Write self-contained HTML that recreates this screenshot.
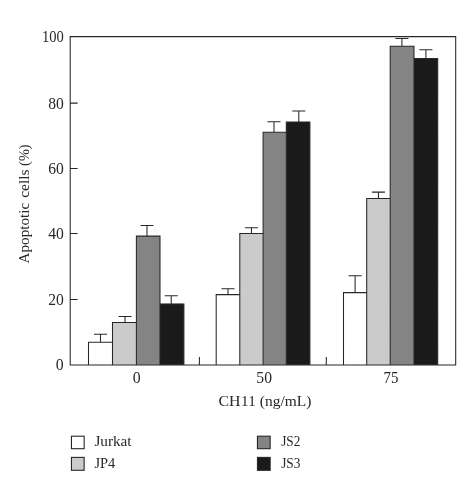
<!DOCTYPE html>
<html><head><meta charset="utf-8"><title>Apoptotic cells chart</title>
<style>html,body{margin:0;padding:0;background:#fff}svg{display:block;filter:grayscale(1)}</style></head>
<body>
<svg width="473" height="481" viewBox="0 0 473 481">
<rect width="473" height="481" fill="#fff"/>
<rect x="88.50" y="342.30" width="24.00" height="22.60" fill="#ffffff"/>
<rect x="112.50" y="322.40" width="23.90" height="42.50" fill="#cbcbcb"/>
<rect x="136.40" y="236.10" width="23.60" height="128.80" fill="#848484"/>
<rect x="160.00" y="303.90" width="23.90" height="61.00" fill="#1a1a1a"/>
<rect x="216.20" y="294.60" width="23.60" height="70.30" fill="#ffffff"/>
<rect x="239.80" y="233.40" width="23.30" height="131.50" fill="#cbcbcb"/>
<rect x="263.10" y="132.30" width="23.20" height="232.60" fill="#848484"/>
<rect x="286.30" y="122.00" width="23.60" height="242.90" fill="#1a1a1a"/>
<rect x="343.50" y="292.60" width="23.20" height="72.30" fill="#ffffff"/>
<rect x="366.70" y="198.50" width="23.50" height="166.40" fill="#cbcbcb"/>
<rect x="390.20" y="46.20" width="23.80" height="318.70" fill="#848484"/>
<rect x="414.00" y="58.50" width="23.70" height="306.40" fill="#1a1a1a"/>
<path d="M100.50 342.30V334.20M94.50 334.20H106.50M88.50 342.30H112.50M125.00 322.40V316.50M119.00 316.50H131.00M112.50 322.40H136.40M147.00 236.10V225.50M141.00 225.50H153.00M136.40 236.10H160.00M171.25 303.90V295.80M165.25 295.80H177.25M160.00 303.90H183.90M88.50 364.9V342.30M112.50 364.9V322.40M136.40 364.9V236.10M160.00 364.9V236.10M183.90 364.9V303.90M228.00 294.60V288.70M222.00 288.70H234.00M216.20 294.60H239.80M251.45 233.40V227.80M245.45 227.80H257.45M239.80 233.40H263.10M274.00 132.30V121.70M268.00 121.70H280.00M263.10 132.30H286.30M298.80 122.00V111.00M292.80 111.00H304.80M286.30 122.00H309.90M216.20 364.9V294.60M239.80 364.9V233.40M263.10 364.9V132.30M286.30 364.9V122.00M309.90 364.9V122.00M355.10 292.60V275.70M349.10 275.70H361.10M343.50 292.60H366.70M378.45 198.50V192.10M372.45 192.10H384.45M366.70 198.50H390.20M401.90 46.20V38.40M395.90 38.40H407.90M390.20 46.20H414.00M425.90 58.50V49.70M419.90 49.70H431.90M414.00 58.50H437.70M343.50 364.9V292.60M366.70 364.9V198.50M390.20 364.9V46.20M414.00 364.9V46.20M437.70 364.9V58.50M70.2 364.9V36.6H455.7V364.9H70.2ZM70.2 103.10H77.1M70.2 168.50H77.1M70.2 233.55H77.1M70.2 299.55H77.1M199.4 364.9V357.5M326.3 364.9V357.5" fill="none" stroke="#2a2627" stroke-width="1.05" stroke-linecap="square" stroke-linejoin="miter"/>
<g font-family="'Liberation Serif', serif" font-size="15" fill="#2b2728">
<text x="63.9" y="41.7" font-size="15.8" text-anchor="end" textLength="21.8" lengthAdjust="spacingAndGlyphs">100</text>
<text x="63.9" y="108.6" font-size="15.8" text-anchor="end" textLength="15.6" lengthAdjust="spacingAndGlyphs">80</text>
<text x="63.9" y="173.6" font-size="15.8" text-anchor="end" textLength="15.6" lengthAdjust="spacingAndGlyphs">60</text>
<text x="63.9" y="238.7" font-size="15.8" text-anchor="end" textLength="15.6" lengthAdjust="spacingAndGlyphs">40</text>
<text x="63.9" y="305.0" font-size="15.8" text-anchor="end" textLength="15.6" lengthAdjust="spacingAndGlyphs">20</text>
<text x="63.6" y="370.25" font-size="15.8" text-anchor="end">0</text>
<text x="136.6" y="382.7" font-size="15.8" text-anchor="middle">0</text>
<text x="264.15" y="382.7" font-size="15.8" text-anchor="middle" textLength="15.6" lengthAdjust="spacingAndGlyphs">50</text>
<text x="390.9" y="382.7" font-size="15.8" text-anchor="middle" textLength="14.9" lengthAdjust="spacingAndGlyphs">75</text>
<text y="405.7"><tspan x="218.4" textLength="22.1" lengthAdjust="spacingAndGlyphs">CH</tspan><tspan x="240.9" textLength="14.8" lengthAdjust="spacing">11</tspan> <tspan x="259.8" textLength="51.5" lengthAdjust="spacingAndGlyphs">(ng/mL)</tspan></text>
<text transform="translate(29.2 262) rotate(-90)"><tspan x="-1.5" textLength="60.8" lengthAdjust="spacingAndGlyphs">Apoptotic</tspan> <tspan x="64.15" textLength="28.45" lengthAdjust="spacingAndGlyphs">cells</tspan> <tspan x="96.0">(</tspan><tspan x="101.1" textLength="11.9" lengthAdjust="spacingAndGlyphs">%</tspan><tspan x="112.6">)</tspan></text>
<rect x="71.45" y="436.2" width="12.7" height="12.5" fill="#ffffff" stroke="#2a2627" stroke-width="1.1"/>
<text x="94.4" y="446.10" textLength="37.2" lengthAdjust="spacingAndGlyphs">Jurkat</text>
<rect x="71.45" y="457.4" width="12.7" height="12.9" fill="#cbcbcb" stroke="#2a2627" stroke-width="1.1"/>
<text x="94.4" y="467.90" textLength="20.8" lengthAdjust="spacingAndGlyphs">JP4</text>
<rect x="257.45" y="436.2" width="12.7" height="12.5" fill="#848484" stroke="#2a2627" stroke-width="1.1"/>
<text x="281.2" y="446.10" textLength="19.2" lengthAdjust="spacingAndGlyphs">JS2</text>
<rect x="257.45" y="457.4" width="12.7" height="12.9" fill="#1a1a1a" stroke="#2a2627" stroke-width="1.1"/>
<text x="281.2" y="467.90" textLength="19.2" lengthAdjust="spacingAndGlyphs">JS3</text>
</g>
</svg>
</body></html>
